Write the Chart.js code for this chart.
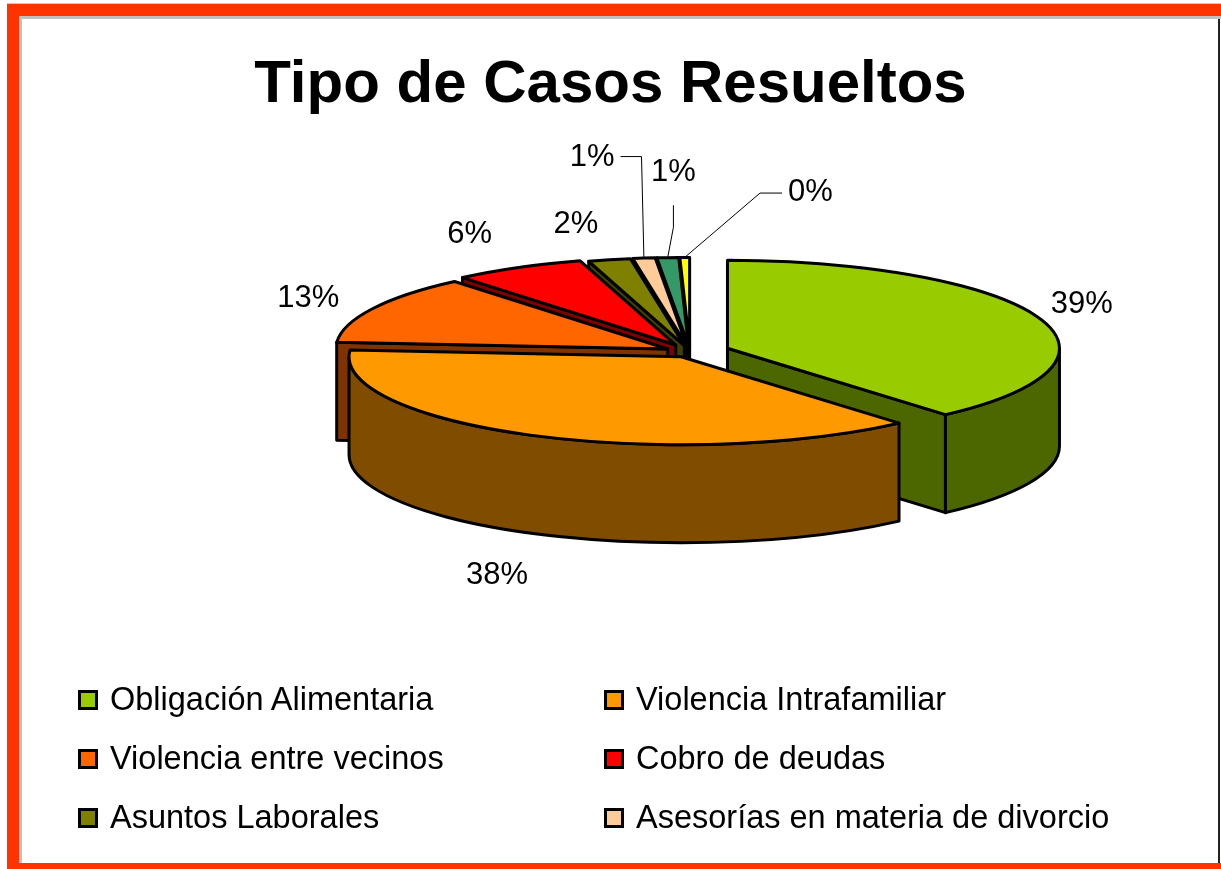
<!DOCTYPE html>
<html lang="es">
<head>
<meta charset="utf-8">
<title>Tipo de Casos Resueltos</title>
<script src="https://cdn.jsdelivr.net/npm/chart.js@4.4.1/dist/chart.umd.min.js"></script>
<style>
  html, body { margin: 0; padding: 0; background: #fff; }
  body { width: 1221px; height: 869px; position: relative; overflow: hidden; font-family: "Liberation Sans", Arial, sans-serif; }
  .bar { position: absolute; }
  .red { background: #ff3300; }
  .shade { background: #c0c0c0; }
  #chartCanvas { position: absolute; left: 0; top: 0; }
  h1 { position: absolute; left: 0; top: 52px; width: 1221px; margin: 0; text-align: center;
       font: bold 60px/60px "Liberation Sans", Arial, sans-serif; color: #000; }
  .legend { position: absolute; left: 78px; top: 670px; display: grid;
            grid-template-columns: 526px auto; grid-auto-rows: 59px; }
  .legend .item { display: flex; align-items: center; font: 32.5px/1 "Liberation Sans", Arial, sans-serif; color: #000; white-space: nowrap; }
  .legend .swatch { flex: none; width: 20px; height: 20px; box-sizing: border-box; border: 3px solid #000; margin-right: 12px; }
</style>
</head>
<body>
<div class="bar" style="left:7px;top:3px;width:1214px;height:1px;background:#ffb3a0"></div>
<div class="bar red" style="left:7px;top:4px;width:1214px;height:12px"></div>
<div class="bar red" style="left:7px;top:4px;width:12px;height:865px"></div>
<div class="bar red" style="left:7px;top:863px;width:1214px;height:6px"></div>
<div class="bar shade" style="left:19px;top:16px;width:1202px;height:3px"></div>
<div class="bar shade" style="left:19px;top:16px;width:3px;height:847px"></div>
<div class="bar" style="left:1218px;top:19px;width:2px;height:844px;background:#222"></div>

<canvas id="chartCanvas" width="1221" height="869"></canvas>
<h1>Tipo de Casos Resueltos</h1>
<div class="legend" id="legend"></div>

<script>
// data
const categories = [
  "Obligación Alimentaria",
  "Violencia Intrafamiliar",
  "Violencia entre vecinos",
  "Cobro de deudas",
  "Asuntos Laborales",
  "Asesorías en materia de divorcio",
  "Otros casos",
  "Otros trámites"
];
const shares = [38.6, 37.6, 12.7, 6.45, 2.05, 1.08, 1.05, 0.47];

// styles
const topColors = ["#99cc00", "#ff9900", "#ff6600", "#ff0000", "#808000", "#ffcc99", "#339966", "#ffff00"];
const sideColors = ["#4c6600", "#804c00", "#803300", "#800000", "#404000", "#80664c", "#1a4c33", "#808000"];
const explode = [40, 20, 25, 30, 25, 25, 25, 25];
const labelShift = [[5, -1], [-21, 11], [-28, 6], [-35, -11], [-28, -15], [-49, -82], [7, -67], [126, -48]];
const leaders = [null, null, null, null, null, "right", "below", "left"];
const legendCount = 6;

const TILT = 0.265;   // vertical squash of the pie top
const DEPTH = 98;     // thickness of the pie, px
const LABEL_FONT = '31px "Liberation Sans", Arial, sans-serif';

function topPath(ctx, s) {
  ctx.beginPath();
  ctx.moveTo(s.ax, s.ay);
  ctx.ellipse(s.ax, s.ay, s.r, s.r * TILT, 0, s.a0, s.a1);
  ctx.closePath();
}

function outerWallPath(ctx, s, t0, t1) {
  ctx.beginPath();
  ctx.ellipse(s.ax, s.ay, s.r, s.r * TILT, 0, t0, t1);
  ctx.ellipse(s.ax, s.ay + DEPTH, s.r, s.r * TILT, 0, t1, t0, true);
  ctx.closePath();
}

function radialWallPath(ctx, s, t) {
  const ex = s.ax + Math.cos(t) * s.r;
  const ey = s.ay + Math.sin(t) * s.r * TILT;
  ctx.beginPath();
  ctx.moveTo(s.ax, s.ay);
  ctx.lineTo(ex, ey);
  ctx.lineTo(ex, ey + DEPTH);
  ctx.lineTo(s.ax, s.ay + DEPTH);
  ctx.closePath();
}

function paint(ctx, fill) {
  ctx.fillStyle = fill;
  ctx.fill();
  ctx.stroke();
}

const pie3d = {
  id: "pie3d",
  beforeDatasetsDraw(chart) {
    const ctx = chart.ctx;
    const arcs = chart.getDatasetMeta(0).data;
    const total = shares.reduce((a, b) => a + b, 0);

    const slices = arcs.map((arc, i) => {
      const mid = (arc.startAngle + arc.endAngle) / 2;
      const off = arc.options.offset || 0;
      return {
        i, mid, a0: arc.startAngle, a1: arc.endAngle, r: arc.outerRadius,
        ax: arc.x + Math.cos(mid) * off,
        ay: arc.y + Math.sin(mid) * off * TILT
      };
    });

    ctx.save();
    ctx.strokeStyle = "#000";
    ctx.lineWidth = 3;
    ctx.lineJoin = "round";

    // side walls, back to front
    const order = slices.slice().sort((p, q) =>
      (p.ay + Math.sin(p.mid) * p.r * TILT * 0.5) - (q.ay + Math.sin(q.mid) * q.r * TILT * 0.5));
    order.forEach((s) => {
      const side = sideColors[s.i];
      if (Math.cos(s.a0) < -1e-6) { radialWallPath(ctx, s, s.a0); paint(ctx, side); }
      if (Math.cos(s.a1) > 1e-6) { radialWallPath(ctx, s, s.a1); paint(ctx, side); }
      const t0 = Math.max(s.a0, 0), t1 = Math.min(s.a1, Math.PI);
      if (t1 > t0) { outerWallPath(ctx, s, t0, t1); paint(ctx, side); }
    });

    // top faces
    slices.forEach((s) => { topPath(ctx, s); paint(ctx, topColors[s.i]); });

    // percentage labels
    ctx.font = LABEL_FONT;
    ctx.fillStyle = "#000";
    ctx.textAlign = "center";
    ctx.textBaseline = "alphabetic";
    slices.forEach((s) => {
      const text = Math.round(shares[s.i] / total * 100) + "%";
      const hw = ctx.measureText(text).width / 2, hh = 11;
      const c = Math.cos(s.mid), n = Math.sin(s.mid);
      const axp = s.ax + c * s.r;
      const ayp = s.ay + n * s.r * TILT + (n > 0 ? DEPTH : 0);
      const ext = 8 + hw * Math.abs(c) + hh * Math.abs(n);
      const lx = axp + c * ext + labelShift[s.i][0];
      const ly = ayp + n * ext + labelShift[s.i][1];
      ctx.fillText(text, lx, ly + hh);

      const kind = leaders[s.i];
      if (kind) {
        let end, elbow;
        if (kind === "right") { end = [lx + hw + 6, ly + 2]; elbow = [end[0] + 21, end[1]]; }
        else if (kind === "left") { end = [lx - hw - 6, ly + 3]; elbow = [end[0] - 22, end[1]]; }
        else { end = [lx, ly + 35]; elbow = [lx, ly + 57]; }
        ctx.save();
        ctx.lineWidth = 1;
        ctx.beginPath();
        ctx.moveTo(axp, ayp);
        ctx.lineTo(elbow[0], elbow[1]);
        ctx.lineTo(end[0], end[1]);
        ctx.stroke();
        ctx.restore();
      }
    });
    ctx.restore();
    return false;
  }
};

new Chart(document.getElementById("chartCanvas"), {
  type: "pie",
  data: {
    labels: categories,
    datasets: [{
      data: shares,
      backgroundColor: topColors,
      borderColor: "#000",
      borderWidth: 3,
      offset: explode
    }]
  },
  options: {
    responsive: false,
    animation: false,
    events: [],
    radius: 332,
    layout: { padding: { left: 159, right: 0, top: 0, bottom: 165 } },
    plugins: { legend: { display: false }, tooltip: { enabled: false }, title: { display: false } }
  },
  plugins: [pie3d]
});

// legend (first six categories, two columns)
const legend = document.getElementById("legend");
categories.slice(0, legendCount).forEach((name, i) => {
  const item = document.createElement("div");
  item.className = "item";
  item.innerHTML = `<span class="swatch" style="background:${topColors[i]}"></span><span>${name}</span>`;
  legend.appendChild(item);
});
</script>
</body>
</html>
